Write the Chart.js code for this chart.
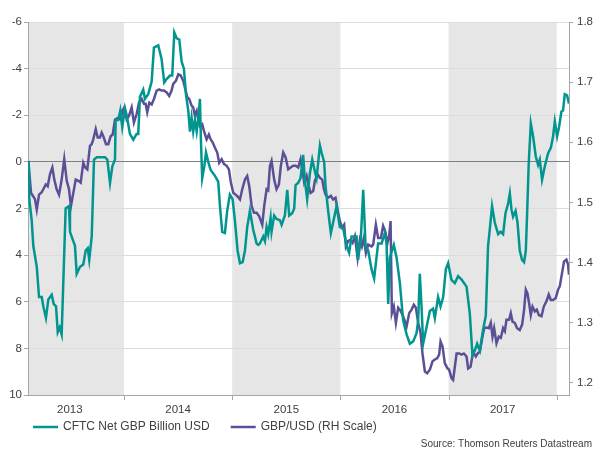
<!DOCTYPE html>
<html>
<head>
<meta charset="utf-8">
<script src="https://cdn.jsdelivr.net/npm/chart.js@4.4.1/dist/chart.umd.min.js"></script>
<style>
  html, body { margin: 0; padding: 0; background: #fff; }
  #wrap { width: 600px; height: 450px; }
</style>
</head>
<body>
<div id="wrap"><canvas id="cftcChart" width="600" height="450"></canvas></div>
<script>
// years shown on the axis, and the years with a grey band behind them
const yearLabels = ['2013', '2014', '2015', '2016', '2017'];
const shadedYears = [2013, 2015, 2017];
const rightTicks = [1.2, 1.3, 1.4, 1.5, 1.6, 1.7, 1.8];
const seriesLabels = ['CFTC Net GBP Billion USD', 'GBP/USD (RH Scale)'];
const sourceText = 'Source: Thomson Reuters Datastream';

// CFTC net position, billion USD (left axis, inverted) - dates as decimal years
const cftcDates = [
  2013.120, 2013.125, 2013.147, 2013.162, 2013.194, 2013.215, 2013.240, 2013.255, 2013.279, 2013.301,
  2013.332, 2013.351, 2013.372, 2013.388, 2013.406, 2013.424, 2013.461, 2013.492, 2013.501, 2013.547,
  2013.563, 2013.594, 2013.624, 2013.646, 2013.665, 2013.679, 2013.702, 2013.723, 2013.748, 2013.824,
  2013.846, 2013.871, 2013.892, 2013.917, 2013.923, 2013.947, 2013.966, 2013.984, 2014.009, 2014.025,
  2014.055, 2014.086, 2014.117, 2014.132, 2014.148, 2014.178, 2014.194, 2014.224, 2014.256, 2014.277,
  2014.317, 2014.348, 2014.372, 2014.394, 2014.425, 2014.446, 2014.465, 2014.487, 2014.511, 2014.533,
  2014.554, 2014.573, 2014.594, 2014.610, 2014.625, 2014.640, 2014.656, 2014.672, 2014.686, 2014.702,
  2014.711, 2014.723, 2014.742, 2014.758, 2014.779, 2014.801, 2014.841, 2014.871, 2014.887, 2014.908,
  2014.933, 2014.954, 2014.979, 2015.004, 2015.025, 2015.050, 2015.072, 2015.097, 2015.118, 2015.139,
  2015.164, 2015.194, 2015.226, 2015.241, 2015.256, 2015.287, 2015.303, 2015.318, 2015.333, 2015.355,
  2015.364, 2015.388, 2015.410, 2015.441, 2015.457, 2015.487, 2015.509, 2015.527, 2015.555, 2015.573,
  2015.586, 2015.610, 2015.632, 2015.656, 2015.672, 2015.693, 2015.718, 2015.740, 2015.764, 2015.780,
  2015.811, 2015.826, 2015.850, 2015.863, 2015.887, 2015.912, 2015.933, 2015.965, 2015.995, 2016.026,
  2016.057, 2016.081, 2016.103, 2016.150, 2016.164, 2016.189, 2016.211, 2016.233, 2016.257, 2016.288,
  2016.312, 2016.349, 2016.381, 2016.411, 2016.427, 2016.442, 2016.457, 2016.494, 2016.519, 2016.550,
  2016.580, 2016.612, 2016.642, 2016.673, 2016.704, 2016.719, 2016.734, 2016.750, 2016.765, 2016.796,
  2016.827, 2016.857, 2016.873, 2016.903, 2016.926, 2016.950, 2016.975, 2016.996, 2017.027, 2017.058,
  2017.088, 2017.120, 2017.166, 2017.196, 2017.221, 2017.242, 2017.264, 2017.289, 2017.319, 2017.344,
  2017.365, 2017.381, 2017.402, 2017.427, 2017.458, 2017.480, 2017.504, 2017.526, 2017.550, 2017.566,
  2017.582, 2017.596, 2017.619, 2017.637, 2017.658, 2017.679, 2017.698, 2017.714, 2017.726, 2017.741,
  2017.760, 2017.781, 2017.806, 2017.827, 2017.843, 2017.864, 2017.889, 2017.920, 2017.945, 2017.966,
  2017.982, 2018.003, 2018.021, 2018.043, 2018.058, 2018.074, 2018.095, 2018.113
];
const cftcValues = [
  0, 1.6, 2.5, 3.6, 4.5, 5.8, 5.8, 6.2, 6.7, 5.9,
  5.7, 6.1, 6.2, 7.3, 7.1, 7.4, 2.0, 1.9, 3.0, 3.6,
  4.8, 4.5, 4.4, 3.8, 3.7, 4.2, 3.2, -0.1, -0.2, -0.2,
  -0.1, 0.9, 0.2, -0.1, -1.8, -1.8, -2.2, -1.5, -2.3, -2.0,
  -1.2, -0.95, -1.2, -1.2, -2.8, -3.1, -2.7, -2.9, -3.45, -4.9,
  -5.0, -4.4, -3.4, -3.55, -3.7, -3.7, -5.55, -5.3, -5.25, -4.3,
  -4.0, -2.9, -2.2, -1.3, -1.9, -1.3, -1.8, -1.3, -1.8, -2.7,
  -0.95, 0.7, 0.2, -0.4, 0, 0.35, 0.6, 0.85, 1.9, 3.0,
  3.05, 2.1, 1.4, 1.6, 2.5, 3.8, 4.35, 4.3, 3.8, 2.8,
  2.1, 2.9, 3.5, 3.56, 3.5, 3.2, 3.4, 2.8, 3.1, 2.4,
  3.0, 2.3, 2.45, 2.5, 2.7, 2.3, 1.2, 2.3, 2.2, 2.0,
  1.0, 0.9, 0.7, -0.3, 0.8, 1.6, 0.5, -0.1, 0.4, 0.7,
  -0.7, -0.4, 0, 1.05, 2.1, 3.06, 2.6, 1.9, 2.8, 2.85,
  3.6, 3.9, 3.2, 3.2, 4.2, 3.3, 1.2, 3.6, 3.8, 4.6,
  5.0, 3.5, 3.5, 3.05, 3.5, 6.1, 4.1, 3.56, 4.1, 5.2,
  6.8, 7.4, 7.8, 7.7, 7.35, 6.8, 4.8, 6.2, 7.8, 7.1,
  6.4, 6.3, 6.7, 5.8, 6.2, 5.8, 4.6, 4.35, 5.06, 5.2,
  4.9, 5.05, 5.35, 6.5, 8.3, 8.1, 7.8, 8.1, 7.2, 6.6,
  3.6, 2.9, 1.9, 2.6, 3.1, 3.0, 3.1, 2.2, 1.8, 1.35,
  2.06, 2.35, 2.1, 2.6, 3.8, 4.2, 4.3, 3.8, 2.2, 0.05,
  -1.65, -1.1, -0.23, 0.13, -0.1, 0.77, 0.2, -0.37, -0.6, -1.1,
  -1.73, -1.1, -1.5, -2.16, -2.2, -2.9, -2.85, -2.5
];

// GBP/USD spot (right axis)
const gbpDates = [
  2013.116, 2013.141, 2013.162, 2013.178, 2013.194, 2013.215, 2013.240, 2013.277, 2013.295, 2013.316,
  2013.338, 2013.356, 2013.378, 2013.400, 2013.424, 2013.448, 2013.471, 2013.492, 2013.510, 2013.532,
  2013.554, 2013.578, 2013.600, 2013.624, 2013.642, 2013.661, 2013.686, 2013.702, 2013.716, 2013.739,
  2013.757, 2013.778, 2013.794, 2013.809, 2013.834, 2013.855, 2013.877, 2013.896, 2013.917, 2013.947,
  2013.970, 2013.984, 2014.003, 2014.025, 2014.046, 2014.071, 2014.092, 2014.117, 2014.139, 2014.164,
  2014.185, 2014.200, 2014.215, 2014.234, 2014.256, 2014.277, 2014.302, 2014.326, 2014.348, 2014.370,
  2014.394, 2014.418, 2014.440, 2014.455, 2014.480, 2014.502, 2014.524, 2014.548, 2014.570, 2014.585,
  2014.603, 2014.625, 2014.640, 2014.656, 2014.672, 2014.686, 2014.702, 2014.723, 2014.739, 2014.764,
  2014.785, 2014.801, 2014.819, 2014.841, 2014.862, 2014.880, 2014.903, 2014.924, 2014.949, 2014.970,
  2014.988, 2015.010, 2015.032, 2015.050, 2015.072, 2015.093, 2015.118, 2015.139, 2015.158, 2015.180,
  2015.201, 2015.226, 2015.250, 2015.278, 2015.296, 2015.318, 2015.333, 2015.349, 2015.364, 2015.388,
  2015.410, 2015.432, 2015.450, 2015.472, 2015.494, 2015.518, 2015.540, 2015.564, 2015.586, 2015.610,
  2015.632, 2015.651, 2015.666, 2015.688, 2015.703, 2015.725, 2015.749, 2015.764, 2015.789, 2015.811,
  2015.832, 2015.848, 2015.863, 2015.887, 2015.912, 2015.933, 2015.955, 2015.974, 2015.995, 2016.017,
  2016.035, 2016.051, 2016.072, 2016.094, 2016.113, 2016.134, 2016.159, 2016.180, 2016.199, 2016.217,
  2016.236, 2016.257, 2016.288, 2016.303, 2016.328, 2016.349, 2016.374, 2016.395, 2016.418, 2016.432,
  2016.451, 2016.464, 2016.476, 2016.494, 2016.513, 2016.534, 2016.556, 2016.580, 2016.612, 2016.636,
  2016.658, 2016.679, 2016.698, 2016.719, 2016.741, 2016.759, 2016.781, 2016.802, 2016.827, 2016.852,
  2016.873, 2016.894, 2016.913, 2016.926, 2016.944, 2016.965, 2016.987, 2017.005, 2017.027, 2017.042,
  2017.058, 2017.074, 2017.098, 2017.120, 2017.141, 2017.166, 2017.181, 2017.203, 2017.227, 2017.252,
  2017.273, 2017.289, 2017.310, 2017.329, 2017.351, 2017.372, 2017.390, 2017.406, 2017.421, 2017.443,
  2017.464, 2017.483, 2017.504, 2017.520, 2017.535, 2017.559, 2017.575, 2017.591, 2017.612, 2017.633,
  2017.658, 2017.680, 2017.698, 2017.714, 2017.729, 2017.744, 2017.760, 2017.776, 2017.797, 2017.815,
  2017.834, 2017.859, 2017.880, 2017.905, 2017.926, 2017.945, 2017.966, 2017.990, 2018.012, 2018.028,
  2018.049, 2018.067, 2018.089, 2018.104, 2018.113
];
const gbpValues = [
  1.569, 1.516, 1.510, 1.505, 1.488, 1.513, 1.517, 1.530, 1.527, 1.547,
  1.558, 1.538, 1.522, 1.513, 1.538, 1.572, 1.536, 1.522, 1.494, 1.516,
  1.538, 1.536, 1.533, 1.566, 1.558, 1.555, 1.594, 1.597, 1.605, 1.622,
  1.608, 1.608, 1.616, 1.610, 1.597, 1.597, 1.610, 1.613, 1.638, 1.641,
  1.638, 1.652, 1.658, 1.638, 1.644, 1.658, 1.633, 1.647, 1.666, 1.672,
  1.664, 1.664, 1.650, 1.666, 1.663, 1.672, 1.686, 1.688, 1.686, 1.686,
  1.683, 1.677, 1.686, 1.697, 1.702, 1.713, 1.711, 1.702, 1.686, 1.675,
  1.672, 1.661, 1.658, 1.644, 1.652, 1.638, 1.627, 1.630, 1.619, 1.605,
  1.613, 1.605, 1.600, 1.591, 1.583, 1.566, 1.572, 1.564, 1.561, 1.555,
  1.533, 1.516, 1.513, 1.510, 1.505, 1.522, 1.538, 1.544, 1.527, 1.494,
  1.483, 1.483, 1.477, 1.463, 1.494, 1.522, 1.520, 1.561, 1.569, 1.538,
  1.522, 1.530, 1.561, 1.583, 1.575, 1.555, 1.558, 1.561, 1.561, 1.558,
  1.572, 1.552, 1.533, 1.544, 1.530, 1.516, 1.519, 1.536, 1.547, 1.541,
  1.538, 1.522, 1.513, 1.508, 1.511, 1.505, 1.508, 1.488, 1.469, 1.458,
  1.463, 1.427, 1.436, 1.438, 1.433, 1.444, 1.408, 1.438, 1.427, 1.441,
  1.416, 1.430, 1.427, 1.430, 1.463, 1.441, 1.441, 1.461, 1.450, 1.430,
  1.445, 1.469, 1.316, 1.327, 1.300, 1.325, 1.320, 1.311, 1.294, 1.316,
  1.322, 1.330, 1.325, 1.300, 1.283, 1.249, 1.219, 1.216, 1.222, 1.236,
  1.239, 1.241, 1.247, 1.269, 1.261, 1.233, 1.225, 1.222, 1.208, 1.205,
  1.227, 1.249, 1.249, 1.247, 1.249, 1.244, 1.224, 1.227, 1.252, 1.244,
  1.250, 1.252, 1.274, 1.291, 1.292, 1.291, 1.300, 1.277, 1.291, 1.266,
  1.277, 1.275, 1.291, 1.286, 1.305, 1.305, 1.316, 1.302, 1.300, 1.291,
  1.288, 1.297, 1.322, 1.355, 1.349, 1.333, 1.313, 1.327, 1.319, 1.322,
  1.313, 1.311, 1.327, 1.336, 1.347, 1.338, 1.338, 1.341, 1.355, 1.361,
  1.383, 1.402, 1.405, 1.397, 1.380
];

const TEAL = '#00968f';
const PURPLE = '#5b5096';
const TEXT = '#404040';
const AXIS = '#a6a6a6';
const FONT = '"Liberation Sans", Arial, sans-serif';

const toPoints = (xs, ys) => xs.map((x, i) => ({ x: x, y: ys[i] }));

// grey year bands behind the grid
const bandsPlugin = {
  id: 'bands',
  beforeDraw(chart) {
    const { ctx, chartArea: a, scales: { x } } = chart;
    ctx.save();
    ctx.fillStyle = '#e6e6e6';
    shadedYears.forEach(yr => {
      const x0 = x.getPixelForValue(Math.max(yr, x.min));
      const x1 = x.getPixelForValue(Math.min(yr + 1, x.max));
      ctx.fillRect(x0, a.top, x1 - x0, a.bottom - a.top);
    });
    ctx.restore();
  }
};

// year boundary ticks, legend and source line
const extrasPlugin = {
  id: 'extras',
  afterDraw(chart) {
    const { ctx, chartArea: a, scales: { x } } = chart;
    ctx.save();
    ctx.strokeStyle = AXIS;
    ctx.lineWidth = 1;
    for (let yr = Math.ceil(x.min); yr <= x.max; yr++) {
      const px = Math.round(x.getPixelForValue(yr)) + 0.5;
      ctx.beginPath();
      ctx.moveTo(px, a.bottom);
      ctx.lineTo(px, a.bottom + 5);
      ctx.stroke();
    }

    ctx.font = '12px ' + FONT;
    ctx.textBaseline = 'middle';
    ctx.fillStyle = TEXT;
    let lx = 33;
    const ly = 427;
    chart.data.datasets.forEach(ds => {
      ctx.strokeStyle = ds.borderColor;
      ctx.lineWidth = 2.5;
      ctx.beginPath();
      ctx.moveTo(lx, ly);
      ctx.lineTo(lx + 25, ly);
      ctx.stroke();
      ctx.textAlign = 'left';
      ctx.fillText(ds.label, lx + 30, ly);
      lx += 30 + ctx.measureText(ds.label).width + 21;
    });

    ctx.font = '10px ' + FONT;
    ctx.textAlign = 'right';
    ctx.fillText(sourceText, 592, 444);
    ctx.restore();
  }
};

new Chart(document.getElementById('cftcChart'), {
  type: 'line',
  data: {
    datasets: [
      {
        label: seriesLabels[0],
        data: toPoints(cftcDates, cftcValues),
        yAxisID: 'y',
        borderColor: TEAL,
        backgroundColor: TEAL,
        borderWidth: 2.5,
        pointRadius: 0,
        tension: 0
      },
      {
        label: seriesLabels[1],
        data: toPoints(gbpDates, gbpValues),
        yAxisID: 'y1',
        borderColor: PURPLE,
        backgroundColor: PURPLE,
        borderWidth: 2.5,
        pointRadius: 0,
        tension: 0
      }
    ]
  },
  options: {
    responsive: false,
    animation: false,
    layout: { padding: { top: 22, left: 0, right: 0, bottom: 0 } },
    plugins: {
      legend: { display: false },
      tooltip: { enabled: false }
    },
    scales: {
      x: {
        type: 'linear',
        min: 2013.113,
        max: 2018.113,
        afterBuildTicks: s => { s.ticks = yearLabels.map(y => ({ value: Number(y) + 0.5 })); },
        afterFit: s => { s.height = 55; },
        ticks: {
          callback: (v, i) => yearLabels[i],
          color: TEXT,
          font: { family: FONT, size: 11.5 },
          padding: 0,
          maxRotation: 0,
          autoSkip: false
        },
        grid: { display: false },
        border: { display: true, color: AXIS }
      },
      y: {
        position: 'left',
        reverse: true,
        min: -6,
        max: 10,
        ticks: {
          stepSize: 2,
          color: TEXT,
          font: { family: FONT, size: 11.5 },
          padding: 2
        },
        afterFit: s => { s.width = 28; },
        grid: {
          color: c => (c.tick && c.tick.value === 0 ? '#7f7f7f' : '#dcdcdc'),
          tickColor: AXIS,
          tickLength: 4
        },
        border: { display: true, color: AXIS }
      },
      y1: {
        position: 'right',
        min: 1.18,
        max: 1.8,
        afterBuildTicks: s => { s.ticks = rightTicks.map(v => ({ value: v })); },
        afterFit: s => { s.width = 31; },
        ticks: {
          callback: v => v.toFixed(1),
          color: TEXT,
          font: { family: FONT, size: 11.5 },
          padding: 4
        },
        grid: { drawOnChartArea: false, tickColor: AXIS, tickLength: 4 },
        border: { display: true, color: AXIS }
      }
    }
  },
  plugins: [bandsPlugin, extrasPlugin]
});
</script>
</body>
</html>
